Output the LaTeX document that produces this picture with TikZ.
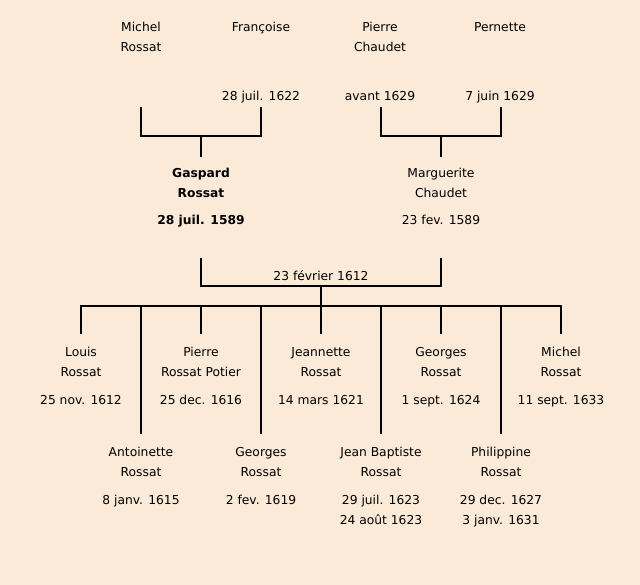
\documentclass[tikz,border=0pt]{standalone}
\usepackage{fontspec}
\setmainfont{DejaVu Sans}
\definecolor{bg}{RGB}{251,234,215}
\begin{document}
\begin{tikzpicture}[x=1pt,y=-1pt,
  link/.style={line width=2pt, line cap=rect},
  txt/.style={font=\fontsize{12.3}{20}\selectfont, align=center, inner sep=0pt, anchor=north},
  btxt/.style={txt, font=\fontsize{12.3}{20}\selectfont\bfseries}]
\fill[bg] (0,0) rectangle (640,585);
\useasboundingbox (0,0) rectangle (640,585);
% grandparents
\node[txt] (mr) at (141,22) {Michel\\Rossat};
\node[txt] (fr) at (261,22) {Françoise};
\node[txt] (pc) at (380,22) {Pierre\\Chaudet};
\node[txt] (pe) at (500,22) {Pernette};
\node[txt] (frd) at (261,91) {28 juil. 1622};
\node[txt] (pcd) at (380,91) {avant 1629};
\node[txt] (ped) at (500,91) {7 juin 1629};
% parents
\node[btxt] (gr) at (201,168) {Gaspard\\Rossat};
\node[btxt] (grd) at (201,215) {28 juil. 1589};
\node[txt] (mc) at (441,168) {Marguerite\\Chaudet};
\node[txt] (mcd) at (441,215) {23 fev. 1589};
\node[txt] (mar) at (321,270) {23 février 1612};
% children row 1
\node[txt] (c1) at (81,347) {Louis\\Rossat};
\node[txt] (c1d) at (81,395) {25 nov. 1612};
\node[txt] (c3) at (201,347) {Pierre\\Rossat Potier};
\node[txt] (c3d) at (201,395) {25 dec. 1616};
\node[txt] (c5) at (321,347) {Jeannette\\Rossat};
\node[txt] (c5d) at (321,395) {14 mars 1621};
\node[txt] (c7) at (441,347) {Georges\\Rossat};
\node[txt] (c7d) at (441,395) {1 sept. 1624};
\node[txt] (c9) at (561,347) {Michel\\Rossat};
\node[txt] (c9d) at (561,395) {11 sept. 1633};
% children row 2
\node[txt] (c2) at (141,447) {Antoinette\\Rossat};
\node[txt] (c2d) at (141,495) {8 janv. 1615};
\node[txt] (c4) at (261,447) {Georges\\Rossat};
\node[txt] (c4d) at (261,495) {2 fev. 1619};
\node[txt] (c6) at (381,447) {Jean Baptiste\\Rossat};
\node[txt] (c6d) at (381,495) {29 juil. 1623\\24 août 1623};
\node[txt] (c8) at (501,447) {Philippine\\Rossat};
\node[txt] (c8d) at (501,495) {29 dec. 1627\\3 janv. 1631};
% coordinates
\coordinate (a1) at (141,108); \coordinate (a2) at (261,108);
\coordinate (a3) at (141,136); \coordinate (a4) at (261,136);
\coordinate (ac) at (201,136); \coordinate (ae) at (201,156);
\coordinate (b1) at (381,108); \coordinate (b2) at (501,108);
\coordinate (b3) at (381,136); \coordinate (b4) at (501,136);
\coordinate (bc) at (441,136); \coordinate (be) at (441,156);
\coordinate (m1) at (201,259); \coordinate (m2) at (441,259);
\coordinate (m3) at (201,286); \coordinate (m4) at (441,286);
\coordinate (mc0) at (321,286); \coordinate (mce) at (321,306);
\coordinate (h1) at (81,306); \coordinate (h9) at (561,306);
\coordinate (e1) at (81,333); \coordinate (e9) at (561,333);
% brackets
\draw[link] (a1) -- (a3) -- (a4) -- (a2);
\draw[link] (ac) -- (ae);
\draw[link] (b1) -- (b3) -- (b4) -- (b2);
\draw[link] (bc) -- (be);
\draw[link] (m1) -- (m3) -- (m4) -- (m2);
\draw[link] (mc0) -- (mce);
\draw[link] (e1) -- (h1) -- (h9) -- (e9);
\foreach \x in {201,321,441} \draw[link] (\x,306) -- (\x,333);
\foreach \x in {141,261,381,501} \draw[link] (\x,306) -- (\x,433);
\end{tikzpicture}
\end{document}
